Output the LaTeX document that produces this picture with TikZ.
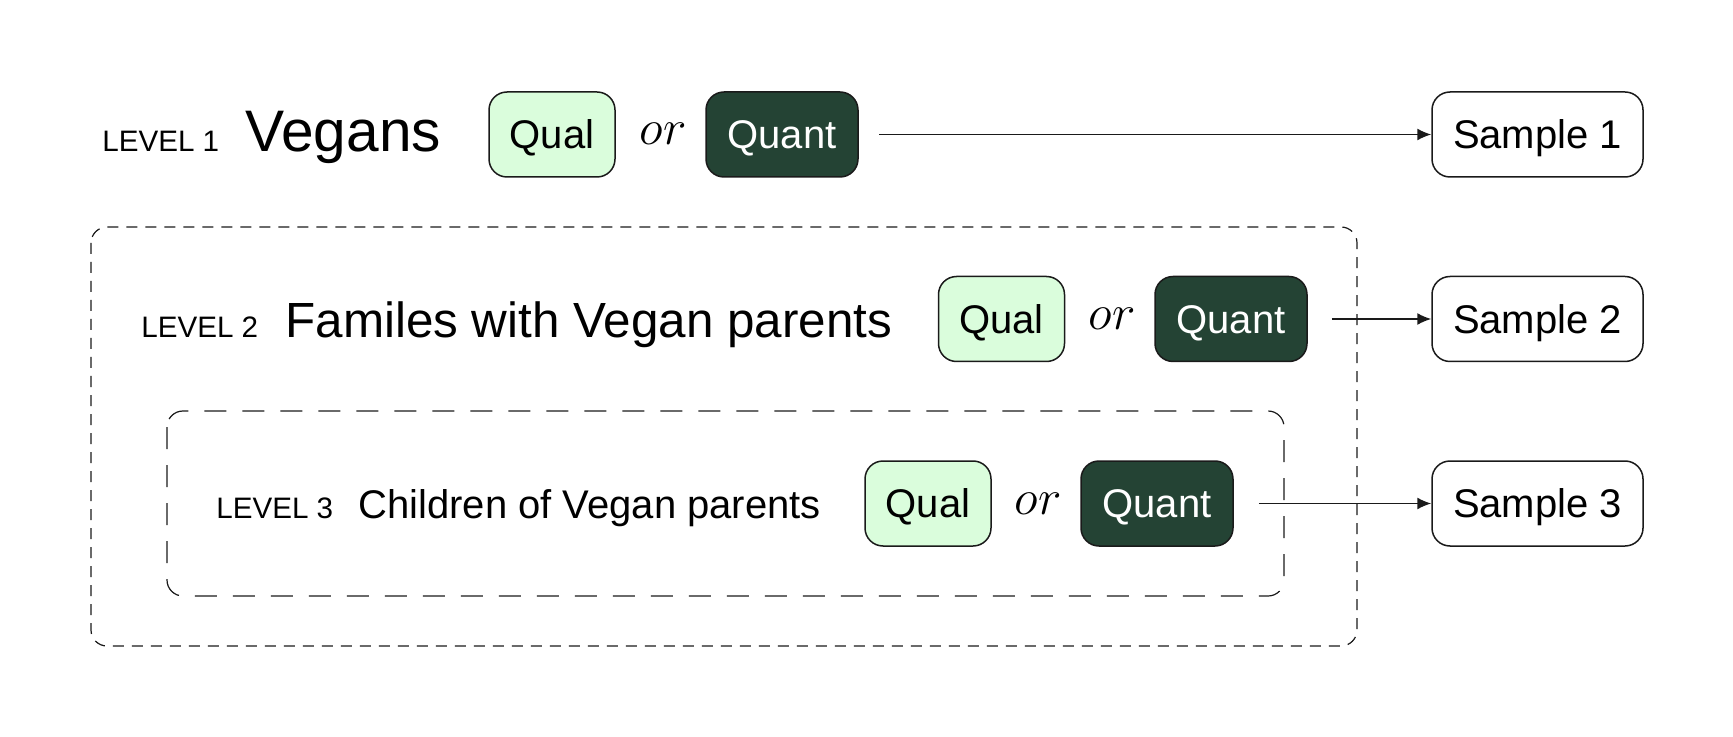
\documentclass[tikz,border=0pt]{standalone}
\usepackage{fontspec}
\setmainfont{Liberation Sans}
\usetikzlibrary{arrows.meta}
\definecolor{qualfill}{HTML}{DAFDDC}
\definecolor{quantfill}{HTML}{244334}
\definecolor{edge}{HTML}{1A1A1A}
\tikzset{
  pill/.style={draw=edge, line width=0.75pt, rounded corners=9pt, minimum height=42.5pt, inner sep=0pt,
    text height=14.3pt, text depth=0pt, font=\fontsize{20}{20}\selectfont},
  qualbox/.style={pill, fill=qualfill, minimum width=63pt, text=black},
  quantbox/.style={pill, fill=quantfill, minimum width=76pt, text=white},
  samplebox/.style={pill, fill=white, minimum width=105.5pt, text=black},
  lvl/.style={anchor=base west, inner sep=0pt, font=\fontsize{14.8}{14.8}\selectfont},
  orword/.style={anchor=base, inner sep=0pt, font=\fontsize{24}{24}\selectfont},
  arr/.style={-{Latex[length=7pt,width=6pt]}, line width=0.75pt, draw=edge},
  outerdash/.style={draw=edge, line width=0.6pt, dash pattern=on 5.5pt off 4pt, rounded corners=8pt},
  innerdash/.style={draw=edge, line width=0.6pt, dash pattern=on 11pt off 8pt, rounded corners=8pt},
}
\begin{document}
\begin{tikzpicture}[x=0.5pt,y=-0.5pt]
\useasboundingbox (0,0) rectangle (1733,737);
% group frames
\draw[outerdash] (91,227) rectangle (1357,646);
\draw[innerdash] (167,411) rectangle (1284,596);
% row 1
\node[lvl] (lv1) at (102,152) {LEVEL 1};
\node[anchor=base west, inner sep=0pt, font=\fontsize{29.3}{29.3}\selectfont] (t1) at (245,152) {Vegans};
\node[qualbox] (ql1) at (552,134.5) {Qual};
\node[orword] (or1) at (663,145) {$or$};
\node[quantbox] (qn1) at (782,134.5) {Quant};
\node[samplebox] (s1) at (1537.5,134.5) {Sample 1};
% row 2
\node[lvl] (lv2) at (141,337) {LEVEL 2};
\node[anchor=base west, inner sep=0pt, font=\fontsize{24.7}{24.7}\selectfont] (t2) at (285,337) {Familes with Vegan parents};
\node[qualbox] (ql2) at (1001.5,319) {Qual};
\node[orword] (or2) at (1112,330) {$or$};
\node[quantbox] (qn2) at (1231,319) {Quant};
\node[samplebox] (s2) at (1537.5,319) {Sample 2};
% row 3
\node[lvl] (lv3) at (216,518) {LEVEL 3};
\node[anchor=base west, inner sep=0pt, font=\fontsize{20}{20}\selectfont] (t3) at (358,518) {Children of Vegan parents};
\node[qualbox] (ql3) at (928,503.5) {Qual};
\node[orword] (or3) at (1038,514) {$or$};
\node[quantbox] (qn3) at (1157,503.5) {Quant};
\node[samplebox] (s3) at (1537.5,503.5) {Sample 3};
% connectors
\draw[arr, shorten <=10.3pt] (qn1) -- (s1);
\draw[arr, shorten <=12pt] (qn2) -- (s2);
\draw[arr, shorten <=12.5pt] (qn3) -- (s3);
\end{tikzpicture}
\end{document}
